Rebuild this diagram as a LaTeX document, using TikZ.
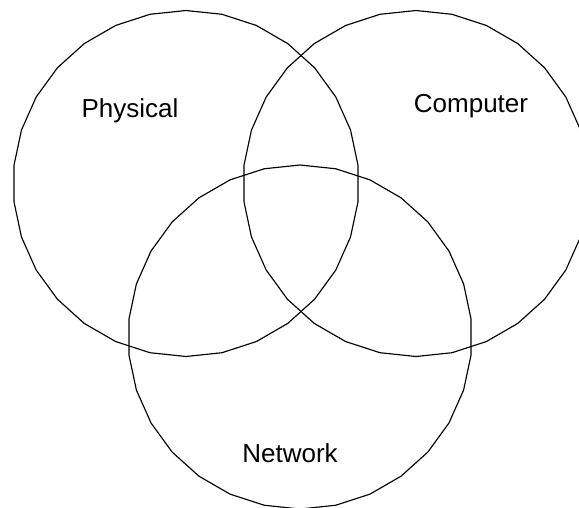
\documentclass[tikz,border=0pt]{standalone}
\usepackage{fontspec}
\setmainfont{Liberation Sans}
\begin{document}
\begin{tikzpicture}[x=1pt,y=-1pt,
  ring/.style={draw=black,line width=1.15pt,line join=round},
  lbl/.style={font=\fontsize{26}{30}\selectfont,anchor=base,inner sep=0pt}]
\useasboundingbox (0,0) rectangle (579,507);
\clip (0,0) rectangle (579,507);
\draw[ring] plot[samples=31,domain=6:366] ({186+173*cos(\x)},{183.5+173*sin(\x)}) -- cycle;
\draw[ring] plot[samples=31,domain=6:366] ({416+173*cos(\x)},{183.5+173*sin(\x)}) -- cycle;
\draw[ring] plot[samples=31,domain=6:366] ({300+172*cos(\x)},{337+172*sin(\x)}) -- cycle;
\node[lbl] (phys) at (130,117) {Physical};
\node[lbl] (comp) at (471,112) {Computer};
\node[lbl] (net) at (290,462) {Network};
\end{tikzpicture}
\end{document}
